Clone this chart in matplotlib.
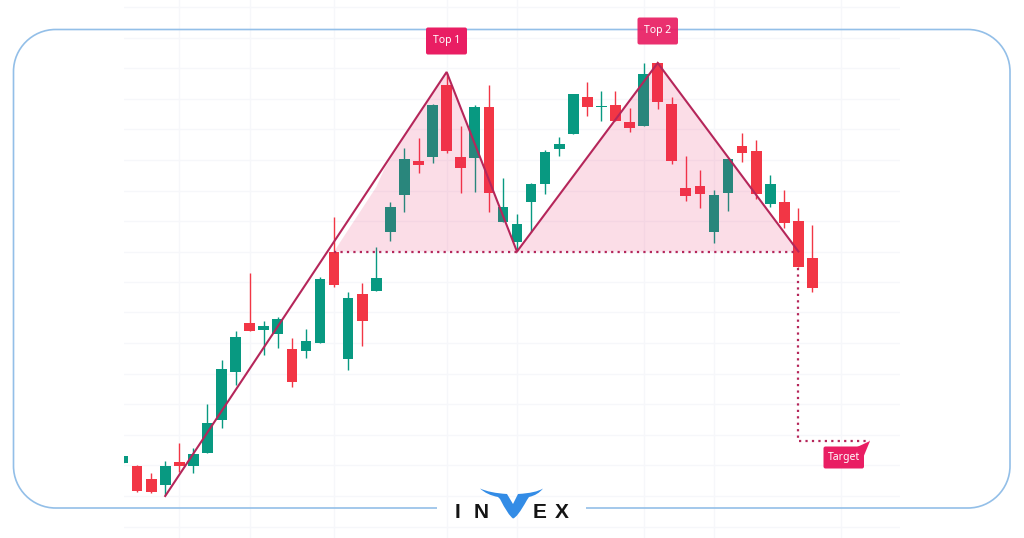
import matplotlib
matplotlib.use("Agg")
import matplotlib.pyplot as plt
from matplotlib.patches import FancyBboxPatch, Polygon, PathPatch
from matplotlib.path import Path

plt.rcParams["font.family"] = ["Noto Sans", "DejaVu Sans"]

# Velas (nivel vertical en pixeles, 0 arriba)
body_top = [456, 465.7, 478.7, 466.3, 461.7, 453.7, 423, 369.3, 336.7, 323,
            326.3, 319.3, 349, 340.7, 278.7, 251.7, 297.7, 294, 278.3, 206.7,
            158.7, 160.7, 105.3, 85.3, 156.7, 107.3, 107.3, 207, 224, 184.3,
            152.3, 144.3, 94.3, 96.7, 106, 105.3, 122, 73.7, 63.3, 103.7,
            188, 185.7, 194.7, 159, 146.3, 150.7, 183.7, 202.3, 221.3, 258.3]
body_bot = [463.3, 491, 492, 485, 465.7, 466.3, 453.3, 420.3, 372.3, 331,
            329.7, 334.3, 382.3, 351, 343.3, 285, 359, 320.7, 291.3, 232,
            195, 165, 157, 151, 168, 158.3, 193, 222.3, 242, 202,
            184, 149, 134, 107.3, 107, 120.7, 128.3, 125.7, 102.3, 161,
            196.3, 194.3, 232, 192.7, 153.3, 194.3, 204.3, 223, 267.3, 288]
highs = [456, 465, 472.7, 461, 442.7, 448.3, 404.3, 360, 331.3, 273.3,
         321.3, 317.3, 338, 328.7, 276.7, 217, 292.3, 282.7, 247.3, 201.7,
         148, 138, 104, 73.3, 126, 105, 84.7, 178.3, 214, 182.7,
         150, 136.7, 93.7, 82, 90.7, 91, 107.7, 63.3, 62.3, 96.7,
         156, 170, 190.3, 158.5, 133.3, 140, 174.7, 190, 207.7, 225]
lows = [463.3, 492, 492.7, 495, 471.7, 473.3, 453.3, 427.7, 385, 331,
        354.7, 347.7, 387.3, 357.7, 343.3, 287.3, 370, 346.3, 291.3, 240.7,
        211.7, 172.7, 163, 152.7, 193.3, 192.3, 211.7, 222.3, 250.7, 231.7,
        194.3, 155.7, 134, 116, 121, 120.7, 131.7, 125.7, 109, 164,
        201, 208, 243, 210.7, 162, 198.7, 207.3, 228, 267.3, 291.7]
# 1 = verde, 0 = roja
alcista = [1, 0, 0, 1, 0, 1, 1, 1, 1, 0, 1, 1, 0, 1, 1, 0, 1, 0, 1, 1,
           1, 0, 1, 0, 0, 1, 0, 1, 1, 1, 1, 1, 1, 0, 1, 0, 0, 1, 0, 0,
           0, 0, 1, 1, 0, 0, 1, 0, 0, 0]

# Figura del doble techo
techo_x = [3, 23, 28, 38, 48]
techo_y = [496, 72, 251.5, 63, 251.5]
relleno_x = [15.0, 18.0, 18.6, 23, 28, 38, 48]
relleno_y = [251.5, 187, 168, 72, 251.5, 63, 251.5]
cuello_x = [15, 48]
cuello_y = [251.5, 251.5]
objetivo_x = [48, 48, 53.1]
objetivo_y = [268, 441, 441]

grid_x = [4, 9, 15, 23, 28, 37, 42, 51]
grid_y = [7, 37.5, 68, 98.5, 129, 160, 190.5, 221, 251.7, 281.7, 312.3, 343.3,
          373.7, 404.3, 435, 465.3, 496, 526.5]

VERDE = "#089981"
ROJO = "#f23645"
ROSA = "#e91e63"
LINEA = "#b5265a"
BORDE = "#93bfe8"

fig = plt.figure(figsize=(10.24, 5.38), dpi=100, facecolor="white")

# Ejes del grafico: x en numero de vela, y en pixeles de la imagen
ax = fig.add_axes([124 / 1024, 0, 776 / 1024, 1])
ax.set_xlim(0.07, 55.22)
ax.set_ylim(538, 0)
ax.set_xticks(grid_x)
ax.set_yticks(grid_y)
ax.grid(True, color="#f6f7fa", linewidth=1)
ax.set_axisbelow(True)
ax.tick_params(length=0, labelbottom=False, labelleft=False)
for s in ax.spines.values():
    s.set_visible(False)

pos = list(range(len(alcista)))
colores = [VERDE if a else ROJO for a in alcista]
alturas = [b - t for t, b in zip(body_top, body_bot)]
ax.vlines(pos, highs, lows, colors=colores, linewidth=1, zorder=2)
ax.bar(pos, alturas, bottom=body_top, width=0.76, color=colores, zorder=3)

ax.fill(relleno_x, relleno_y, color=ROSA, alpha=0.15, linewidth=0, zorder=4)
ax.plot(techo_x, techo_y, color=LINEA, linewidth=1.5, zorder=5, solid_joinstyle="miter")
ax.plot(cuello_x, cuello_y, color=LINEA, linewidth=1.6, linestyle=(0, (1, 1.9)), zorder=5)
ax.plot(objetivo_x, objetivo_y, color=LINEA, linewidth=1.6, linestyle=(0, (1, 1.9)), zorder=5)

# Capa de marco, etiquetas y logo en pixeles
top = fig.add_axes([0, 0, 1, 1], facecolor="none")
top.set_xlim(0, 1024)
top.set_ylim(538, 0)
top.axis("off")

x0, x1, y0, y1, r = 13.5, 1010, 29.5, 508, 42
k = 0.55 * r
verts = [(437, y1), (x0 + r, y1), (x0 + r - k, y1), (x0, y1 - r + k), (x0, y1 - r),
         (x0, y0 + r), (x0, y0 + r - k), (x0 + r - k, y0), (x0 + r, y0),
         (x1 - r, y0), (x1 - r + k, y0), (x1, y0 + r - k), (x1, y0 + r),
         (x1, y1 - r), (x1, y1 - r + k), (x1 - r + k, y1), (x1 - r, y1), (586, y1)]
codes = [Path.MOVETO, Path.LINETO, Path.CURVE4, Path.CURVE4, Path.CURVE4,
         Path.LINETO, Path.CURVE4, Path.CURVE4, Path.CURVE4,
         Path.LINETO, Path.CURVE4, Path.CURVE4, Path.CURVE4,
         Path.LINETO, Path.CURVE4, Path.CURVE4, Path.CURVE4, Path.LINETO]
top.add_patch(PathPatch(Path(verts, codes), fill=False, edgecolor=BORDE, linewidth=1.2, zorder=1))


def etiqueta(x, y, w, h, texto, alpha=1.0):
    top.add_patch(FancyBboxPatch((x + 1.5, y + 1.5), w - 3, h - 3, boxstyle="round,pad=1.5,rounding_size=2",
                                 facecolor=ROSA, edgecolor="none", alpha=alpha, zorder=3))
    top.text(x + w / 2, y + h / 2, texto, color="white", fontsize=7.5, ha="center", va="center", zorder=4)


etiqueta(426, 27.5, 41, 27, "Top 1")
etiqueta(637.5, 17.5, 40.5, 27, "Top 2", alpha=0.92)
top.add_patch(Polygon([(855, 448), (870, 441), (863, 458)], facecolor=ROSA, edgecolor="none", zorder=3))
etiqueta(823.5, 446.5, 40.5, 22, "Target")

# Logo
for letra, lx in zip("INEX", [458, 481, 540, 562]):
    top.text(lx, 518, letra, family="Liberation Sans", fontsize=15, fontweight="bold",
             color="#141414", ha="center", va="baseline", zorder=5)
cuernos = [(480, 488.5),
           (487, 495), (498, 497), (500, 499), (508, 515), (513, 518.5),
           (517, 518), (527, 500), (529, 497), (538, 495), (543, 488.5),
           (536, 493), (518, 494), (513, 504), (507, 494), (490, 493), (480, 488.5)]
cuernos_codes = [Path.MOVETO,
                 Path.CURVE3, Path.CURVE3, Path.LINETO, Path.CURVE3, Path.CURVE3,
                 Path.CURVE3, Path.CURVE3, Path.LINETO, Path.CURVE3, Path.CURVE3,
                 Path.CURVE3, Path.CURVE3, Path.LINETO, Path.LINETO, Path.CURVE3, Path.CURVE3]
top.add_patch(PathPatch(Path(cuernos, cuernos_codes), facecolor="#338ce6", edgecolor="none", zorder=6))

plt.savefig("out.png", dpi=100)
